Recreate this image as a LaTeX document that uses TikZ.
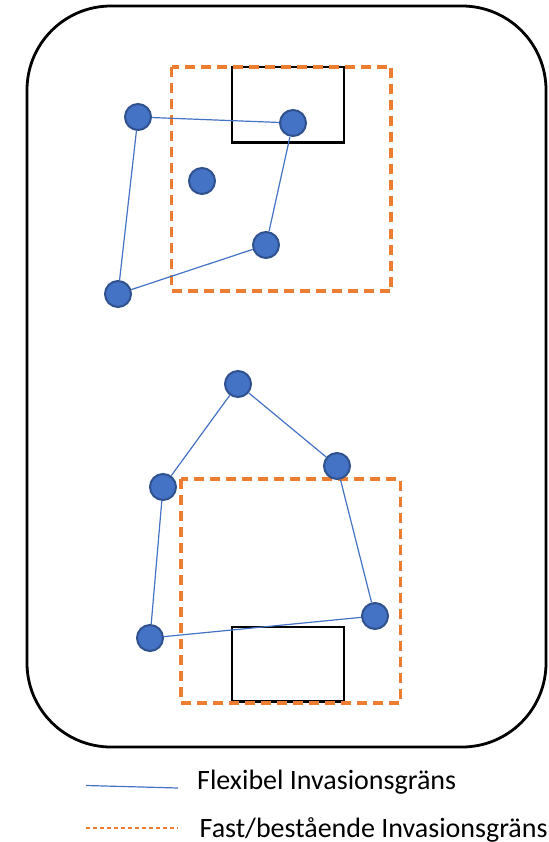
\documentclass[tikz,border=0pt]{standalone}
\usepackage{fontspec}
\setmainfont{Carlito}
\definecolor{blu}{HTML}{4472C4}
\definecolor{bludark}{HTML}{2F528F}
\definecolor{orng}{HTML}{ED7D31}
\tikzset{
  dot/.style={circle, fill=blu, draw=bludark, line width=2pt, minimum size=26pt, inner sep=0pt},
  flex/.style={draw=blu, line width=1.2pt},
  fixed/.style={draw=orng, line width=3.1pt, dash pattern=on 10pt off 6pt},
  obj/.style={draw=black, line width=2.8pt},
  legtext/.style={font=\fontsize{28}{32}\selectfont, anchor=base west, inner sep=0pt}
}
\begin{document}
\begin{tikzpicture}[x=1pt,y=-1pt]
\useasboundingbox (0,0) rectangle (548,842);
% outer frame
\draw[line width=2.8pt, rounded corners=84pt] (27,6) rectangle (546,747);
% top group
\draw[obj] (232,67) rectangle (344,142.5);
\draw[fixed] (171.5,67) rectangle (391,291);
\node[dot] (a) at (138,117) {};
\node[dot] (b) at (293,123) {};
\node[dot] (c) at (266,245) {};
\node[dot] (d) at (118,294) {};
\node[dot] (e) at (202,181) {};
\draw[flex] (a) -- (b) -- (c) -- (d) -- (a);
% bottom group
\draw[obj] (232,627) rectangle (344,701.5);
\draw[fixed] (181,479) rectangle (400.5,703);
\node[dot] (p) at (238,384) {};
\node[dot] (q) at (337,466) {};
\node[dot] (r) at (375,616) {};
\node[dot] (s) at (150,638) {};
\node[dot] (t) at (163,487) {};
\draw[flex] (t) -- (p) -- (q) -- (r) -- (s) -- (t);
% legend
\coordinate (l1a) at (86,785.5);
\coordinate (l1b) at (178,788);
\draw[draw=blu, line width=1.2pt] (l1a) -- (l1b);
\node[legtext] (t1) at (197,789.5) {Flexibel Invasionsgräns};
\coordinate (l2a) at (86,828);
\coordinate (l2b) at (178,828);
\draw[draw=orng, line width=1.2pt, dash pattern=on 4pt off 3pt] (l2a) -- (l2b);
\node[legtext] (t2) at (199.5,837.5) {Fast/bestående Invasionsgräns};
\end{tikzpicture}
\end{document}
